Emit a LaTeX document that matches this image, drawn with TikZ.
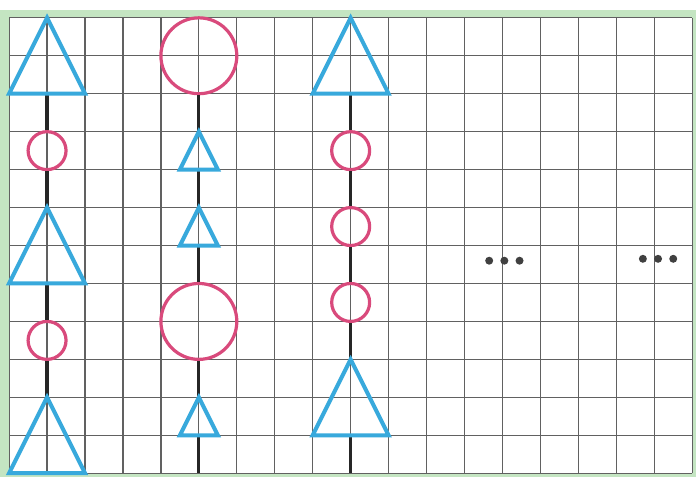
\documentclass[tikz,border=0pt]{standalone}
\usetikzlibrary{positioning}
\definecolor{triblue}{HTML}{38A9DC}
\definecolor{ringpink}{HTML}{D94A7C}
\definecolor{framegreen}{HTML}{C4E5C2}
\begin{document}
\begin{tikzpicture}[
 tri/.style={triblue, line width=3pt},
 ring/.style={circle, draw=ringpink, line width=2.4pt, inner sep=0pt},
 stem/.style={black!85, line width=2.4pt},
 dot/.style={circle, fill=black!75, inner sep=0pt, minimum size=2.1mm}]
 \useasboundingbox (-0.24,-0.1) rectangle (18.1,12.47);
 \fill[framegreen] (-0.24,-0.1) rectangle (18.1,12.2);
 \fill[white] (0,0) rectangle (18,12);
 \draw[black!62, line width=0.9pt] (0,0) grid (18,12);

 \coordinate (a1) at (1,10);
 \node[ring, minimum size=1cm] (a2) at (1,8.5) {};
 \coordinate (a3) at (1,7); \coordinate (a3b) at (1,5);
 \node[ring, minimum size=1cm] (a4) at (1,3.5) {};
 \coordinate (a5) at (1,2);

 \node[ring, minimum size=2cm] (b1) at (5,11) {};
 \coordinate (b2) at (5,9); \coordinate (b2b) at (5,8);
 \coordinate (b3) at (5,7); \coordinate (b3b) at (5,6);
 \node[ring, minimum size=2cm] (b4) at (5,4) {};
 \coordinate (b5) at (5,2); \coordinate (b5b) at (5,1);
 \coordinate (b6) at (5,0);

 \coordinate (c1) at (9,10);
 \node[ring, minimum size=1cm] (c2) at (9,8.5) {};
 \node[ring, minimum size=1cm] (c3) at (9,6.5) {};
 \node[ring, minimum size=1cm] (c4) at (9,4.5) {};
 \coordinate (c5) at (9,3); \coordinate (c5b) at (9,1);
 \coordinate (c6) at (9,0);

 \draw[stem] (a1) -- (a2.north);
 \draw[stem] (a2.south) -- (a3);
 \draw[stem] (a3b) -- (a4.north);
 \draw[stem] (a4.south) -- (a5);
 \draw[stem] (b1.south) -- (b2);
 \draw[stem] (b2b) -- (b3);
 \draw[stem] (b3b) -- (b4.north);
 \draw[stem] (b4.south) -- (b5);
 \draw[stem] (b5b) -- (b6);
 \draw[stem] (c1) -- (c2.north);
 \draw[stem] (c2.south) -- (c3.north);
 \draw[stem] (c3.south) -- (c4.north);
 \draw[stem] (c4.south) -- (c5);
 \draw[stem] (c5b) -- (c6);

 \draw[tri] (0,10) -- (1,12) -- (2,10) -- cycle;
 \draw[tri] (0,5) -- (a3) -- (2,5) -- cycle;
 \draw[tri] (0,0) -- (a5) -- (2,0) -- cycle;
 \draw[tri] (4.5,8) -- (b2) -- (5.5,8) -- cycle;
 \draw[tri] (4.5,6) -- (b3) -- (5.5,6) -- cycle;
 \draw[tri] (4.5,1) -- (b5) -- (5.5,1) -- cycle;
 \draw[tri] (8,10) -- (9,12) -- (10,10) -- cycle;
 \draw[tri] (8,1) -- (c5) -- (10,1) -- cycle;

 \foreach \x [count=\i] in {12.65,13.05,13.45}
  \node[dot] (p\i) at (\x,5.6) {};
 \foreach \x [count=\i] in {16.7,17.1,17.5}
  \node[dot] (q\i) at (\x,5.65) {};
\end{tikzpicture}
\end{document}
